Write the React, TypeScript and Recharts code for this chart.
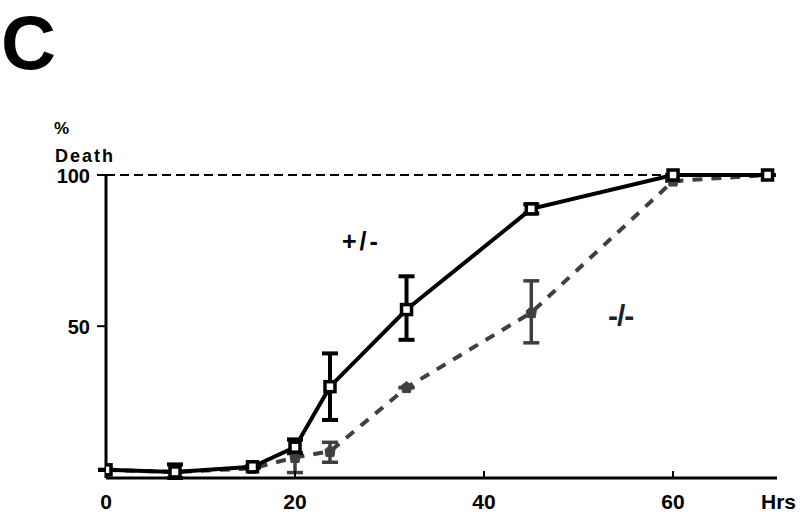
import React from "react";
import { ComposedChart, Line, XAxis, YAxis, ErrorBar } from "recharts";

const hours = [0, 7.3, 15.5, 20, 23.7, 31.8, 45, 60, 70];
const hetValues = [2.5, 1.8, 3.5, 10, 30, 55.5, 88.8, 100, 100];
const hetErrors: [number, number][] = [[0, 0], [2, 2.5], [0, 0], [2, 2.5], [11, 11], [10, 11], [1.5, 1.5], [0, 0], [0, 0]];
const koValues = [2.5, 1.8, 3, 6.6, 8.6, 29.7, 54.5, 98, 100];
const koErrors: [number, number][] = [[0, 0], [0, 0], [0, 0], [5, 6], [3.6, 3], [0, 0], [10, 10.5], [0, 0], [0, 0]];
const refLine = [{ x: 0, y: 100 }, { x: 60, y: 100 }];
const xTicks = [0, 20, 40, 60];
const yTicks = [50, 100];

const hetData = hours.map((x, i) => ({ x, y: hetValues[i], err: hetErrors[i] }));
const koData = hours.map((x, i) => ({ x, y: koValues[i], err: koErrors[i] }));

const FONT = "'Liberation Sans', Arial, Helvetica, sans-serif";

const XTick = (props: any) => {
  const { x, y, payload } = props;
  return (
    <g>
      {payload.value !== 0 && (
        <line x1={x} x2={x} y1={y} y2={y - 7} stroke="#000" strokeWidth={2} />
      )}
      <text x={x} y={y + 31} textAnchor="middle" fontFamily={FONT} fontWeight="bold" fontSize={21} fill="#000">
        {payload.value}
      </text>
    </g>
  );
};

const YTick = (props: any) => {
  const { x, y, payload } = props;
  return (
    <text x={x} y={y + 8} textAnchor="end" fontFamily={FONT} fontWeight="bold" fontSize={20} fill="#000">
      {payload.value}
    </text>
  );
};

const SquareDot = (props: any) => {
  const { cx, cy } = props;
  if (cx == null || cy == null) return null;
  return <rect x={cx - 5} y={cy - 5} width={10} height={10} fill="#fff" stroke="#000" strokeWidth={3.5} />;
};

const GrayDot = (props: any) => {
  const { cx, cy } = props;
  if (cx == null || cy == null) return null;
  return (
    <polygon
      points={`${cx},${cy - 6} ${cx + 5},${cy - 2} ${cx + 4},${cy + 5} ${cx - 4},${cy + 5} ${cx - 5},${cy - 2}`}
      fill="#3f3f3f"
      stroke="#3f3f3f"
      strokeWidth={1}
    />
  );
};

export default function App() {
  return (
    <div style={{ position: "absolute", left: 0, top: 0, width: 800, height: 514, background: "#fff" }}>
      <ComposedChart width={800} height={514} margin={{ top: 175, right: 23, left: 46, bottom: 6 }}>
        <XAxis
          type="number"
          dataKey="x"
          domain={[0, 71]}
          ticks={xTicks}
          allowDataOverflow
          height={30}
          tickSize={0}
          tickMargin={0}
          tickLine={false}
          tick={<XTick />}
          axisLine={{ stroke: "#000", strokeWidth: 3 }}
        />
        <YAxis
          type="number"
          domain={[0, 100]}
          ticks={yTicks}
          width={60}
          tickSize={9}
          tickMargin={7}
          tickLine={{ stroke: "#000", strokeWidth: 2 }}
          axisLine={{ stroke: "#000", strokeWidth: 3 }}
          tick={<YTick />}
        />
        <Line
          data={refLine}
          dataKey="y"
          stroke="#000"
          strokeWidth={2}
          strokeDasharray="9 5"
          dot={false}
          isAnimationActive={false}
        />
        <Line
          data={koData}
          dataKey="y"
          stroke="#3f3f3f"
          strokeWidth={4}
          strokeDasharray="10 9"
          dot={<GrayDot />}
          isAnimationActive={false}
        >
          <ErrorBar dataKey="err" direction="y" width={8} stroke="#3f3f3f" strokeWidth={3.5} />
        </Line>
        <Line
          data={hetData}
          dataKey="y"
          stroke="#000"
          strokeWidth={4}
          dot={<SquareDot />}
          isAnimationActive={false}
        >
          <ErrorBar dataKey="err" direction="y" width={8} stroke="#000" strokeWidth={4} />
        </Line>
      </ComposedChart>
      <svg width={800} height={514} style={{ position: "absolute", left: 0, top: 0, pointerEvents: "none" }}>
        <text x={1} y={69} fontFamily={FONT} fontWeight="bold" fontSize={76} fill="#000">C</text>
        <text x={54} y={134} fontFamily={FONT} fontWeight="bold" fontSize={17} fill="#000">%</text>
        <text x={55} y={162} fontFamily={FONT} fontWeight="bold" fontSize={18} letterSpacing={2} fill="#000">Death</text>
        <text x={761} y={509} fontFamily={FONT} fontWeight="bold" fontSize={21} fill="#000">Hrs</text>
        <text x={342} y={250} fontFamily={FONT} fontWeight="bold" fontSize={25} letterSpacing={3} fill="#000">+/-</text>
        <text x={608} y={326} fontFamily={FONT} fontWeight="bold" fontSize={30} letterSpacing={-1} fill="#222">-/-</text>
      </svg>
    </div>
  );
}
